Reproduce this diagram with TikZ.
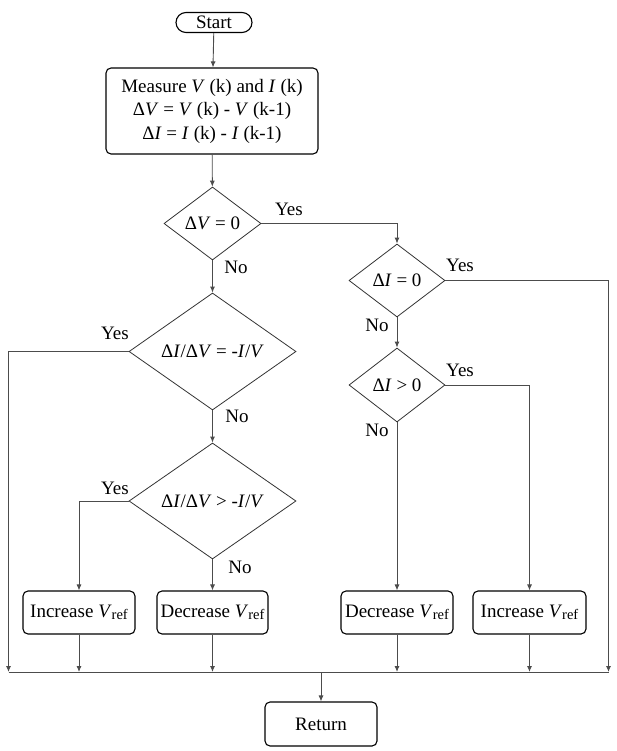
\documentclass[tikz,border=0pt]{standalone}
\usepackage{fontspec}
\setmainfont{Liberation Serif}
\usepackage{tikz}
\usetikzlibrary{shapes.geometric}
\usetikzlibrary{shapes.misc}
\usetikzlibrary{arrows.meta}
\tikzset{every node/.style={font=\fontsize{19}{23.5}\selectfont},
 terminal/.style={rounded rectangle,draw=black,line width=1.1pt,minimum width=76pt,minimum height=20pt,inner sep=0pt},
 process/.style={rectangle,rounded corners=5pt,draw=black,line width=1.1pt,inner sep=0pt,align=center},
 decision/.style={diamond,draw=black!80,line width=0.8pt,inner sep=0pt,aspect=1.35},
 line/.style={draw=black!70,line width=0.9pt},
 arrow/.style={line,-{Latex[length=6pt,width=5pt]}},
 answer/.style={inner sep=0pt},
 }
\newcommand{\vvar}{\textit{V}}
\newcommand{\ivar}{\textit{I}}
\newcommand{\vref}{\textit{V}\raisebox{-0.3ex}{\fontsize{14.5}{14.5}\selectfont ref}}

\begin{document}
\begin{tikzpicture}[x=1pt,y=-1pt]
        \useasboundingbox (0,0) rectangle (617,751);
        \node[terminal] (start) at (214, 22.5) {Start};
        \node[process, minimum width=212pt, minimum height=86pt] (measure) at (212, 111)
            {Measure \vvar{} (k) and \ivar{} (k)\\ Δ\vvar{} = \vvar{} (k) - \vvar{} (k-1)\\ Δ\ivar{} = \ivar{} (k) - \ivar{} (k-1)};
        \node[decision, minimum width=97pt, minimum height=73pt] (dv) at (212.5, 223.5) {Δ\vvar{} = 0};
        \node[decision, minimum width=167pt, minimum height=117pt, aspect=1.43] (slope) at (212.5, 351.5) {Δ\ivar/Δ\vvar{} = -\ivar/\vvar};
        \node[decision, minimum width=167pt, minimum height=116pt, aspect=1.43] (slopegt) at (212.5, 501) {Δ\ivar/Δ\vvar{} > -\ivar/\vvar};
        \node[decision, minimum width=96pt, minimum height=73pt] (di) at (397, 280.5) {Δ\ivar{} = 0};
        \node[decision, minimum width=96pt, minimum height=74pt] (digt) at (397, 385) {Δ\ivar{} > 0};
        \node[process, minimum width=112pt, minimum height=43pt] (incl) at (79, 612.5) {Increase \vref};
        \node[process, minimum width=111pt, minimum height=43pt] (decl) at (212.5, 612.5) {Decrease \vref};
        \node[process, minimum width=112pt, minimum height=43pt] (decr) at (397, 612.5) {Decrease \vref};
        \node[process, minimum width=113pt, minimum height=43pt] (incr) at (529.5, 612.5) {Increase \vref};
        \node[process, minimum width=112pt, minimum height=44pt] (ret) at (321, 724) {Return};
        \coordinate (busl) at (8.5, 672);
        \coordinate (busr) at (608.5, 672);

        \node[answer] at (289, 209) {Yes};
        \node[answer] at (236, 267) {No};
        \node[answer] at (115, 333) {Yes};
        \node[answer] at (237, 416) {No};
        \node[answer] at (115, 488) {Yes};
        \node[answer] at (240, 567) {No};
        \node[answer] at (460, 265) {Yes};
        \node[answer] at (377, 325) {No};
        \node[answer] at (460, 370) {Yes};
        \node[answer] at (377, 430) {No};

        \draw[arrow] (start) -- (measure);
        \draw[arrow] (measure) -- (dv);
        \draw[arrow] (dv) -- (slope);
        \draw[arrow] (slope) -- (slopegt);
        \draw[arrow] (slopegt) -- (decl);
        \draw[arrow] (slopegt.west) -| (incl.north);
        \draw[arrow] (dv.east) -| (di.north);
        \draw[arrow] (di) -- (digt);
        \draw[arrow] (digt) -- (decr);
        \draw[arrow] (digt.east) -| (incr.north);
        \draw[arrow] (slope.west) -| (busl);
        \draw[arrow] (di.east) -| (busr);
        \draw[line] (busl) -- (busr);
        \draw[arrow] (incl.south) -- (incl.south |- busl);
        \draw[arrow] (decl.south) -- (decl.south |- busl);
        \draw[arrow] (decr.south) -- (decr.south |- busl);
        \draw[arrow] (incr.south) -- (incr.south |- busl);
        \draw[arrow] (ret.north |- busl) -- (ret.north);
    \end{tikzpicture}
\end{document}
